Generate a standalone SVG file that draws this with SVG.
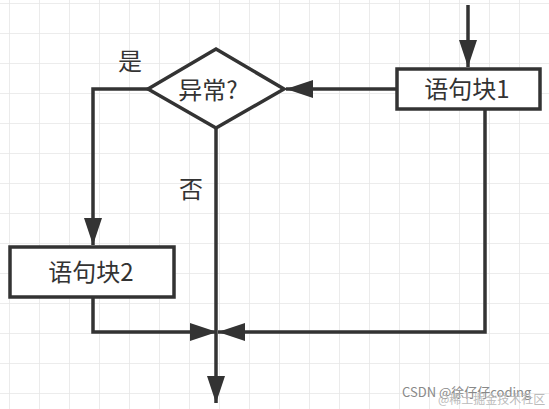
<svg xmlns="http://www.w3.org/2000/svg" width="549" height="409" viewBox="0 0 549 409">
<defs>
<pattern id="grid" x="9" y="3" width="30" height="30" patternUnits="userSpaceOnUse">
<path d="M0 0 V30 M0 0 H30" fill="none" stroke="#e6e6e6" stroke-width="1.6"/>
</pattern>
<marker id="arr" viewBox="0 0 27 18" refX="27" refY="9" markerWidth="27" markerHeight="18" markerUnits="userSpaceOnUse" orient="auto">
<path d="M0 0 L27 9 L0 18 Z" fill="#333"/>
</marker>
</defs>
<style>
.shape{fill:#fff;stroke:#333;stroke-width:3.5;stroke-linejoin:miter}
.edge{fill:none;stroke:#333;stroke-width:3.5}
.lbl{font-family:"Noto Sans CJK SC","Noto Sans",sans-serif;font-size:24px;fill:#333;text-anchor:middle}
.wm{font-family:"Noto Sans CJK SC","Liberation Sans",sans-serif}
</style>
<rect width="549" height="409" fill="#fff"/>
<rect width="549" height="409" fill="url(#grid)"/>
<g id="connectors">
<path class="edge" d="M468 5 V67" marker-end="url(#arr)"/>
<path class="edge" d="M396 89 H286" marker-end="url(#arr)"/>
<path class="edge" d="M148 89 H93 V245" marker-end="url(#arr)"/>
<path class="edge" d="M216 127 V403" marker-end="url(#arr)"/>
<path class="edge" d="M93 297 V332 H217" marker-end="url(#arr)"/>
<path class="edge" d="M485 109 V332 H218" marker-end="url(#arr)"/>
</g>
<g id="node-block1">
<rect class="shape" x="397" y="69" width="143" height="40"/>
<text class="lbl" x="467" y="98">语句块1</text>
</g>
<g id="node-decision">
<path class="shape" d="M216 49 L284 89 L216 128 L148 89 Z"/>
<text class="lbl" x="208" y="99">异常?</text>
</g>
<g id="node-block2">
<rect class="shape" x="10" y="247" width="164" height="50"/>
<text class="lbl" x="91" y="281">语句块2</text>
</g>
<g id="labels">
<text class="lbl" x="130" y="70">是</text>
<text class="lbl" x="191" y="198">否</text>
</g>
<g id="watermark">
<text class="wm" x="402" y="397" font-size="13" fill="#888">CSDN @徐仔仔coding</text>
<text class="wm" x="438" y="404" font-size="12" fill="#bbb">@稀土掘金技术社区</text>
</g>
</svg>
